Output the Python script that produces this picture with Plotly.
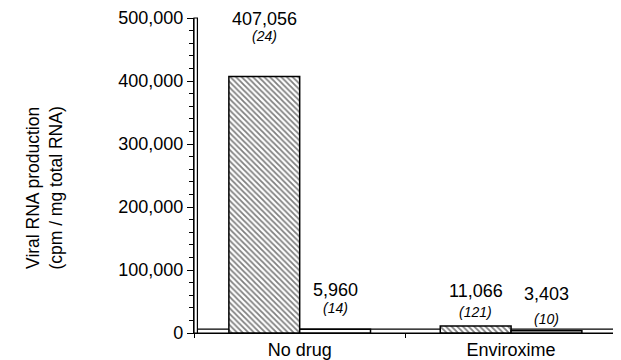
import plotly.graph_objects as go

categories = ["No drug", "Enviroxime"]
series_a = [407056, 11066]   # hatched bars
series_b = [5960, 3403]      # white bars
counts_a = ["(24)", "(121)"]
counts_b = ["(14)", "(10)"]
y_title = "Viral RNA production<br>(cpm / mg total RNA)"

FONT = "Liberation Sans, Arial, sans-serif"
BARGAP = 0.33
half = (1 - BARGAP) / 4.0

fig = go.Figure()
fig.add_trace(go.Bar(
    x=categories, y=series_a,
    marker=dict(color="white", line=dict(color="black", width=1.5),
                pattern=dict(shape="\\", fgcolor="black", bgcolor="white",
                             size=4, solidity=0.45)),
    showlegend=False, hoverinfo="skip"))
fig.add_trace(go.Bar(
    x=categories, y=series_b,
    marker=dict(color="white", line=dict(color="black", width=1.5)),
    showlegend=False, hoverinfo="skip"))

annotations = []
# (count label shift, value label shift) in pixels above bar top
label_shift = {(0, 0): (31, 46), (0, 1): (11, 27), (1, 0): (4, 23), (1, 1): (2, 25)}
for i in range(len(categories)):
    for s, (vals, cnts, off) in enumerate(((series_a, counts_a, -half),
                                           (series_b, counts_b, half))):
        csh, vsh = label_shift[(i, s)]
        annotations.append(dict(x=i + off, y=vals[i], xref="x", yref="y",
                                text="<i>%s</i>" % cnts[i], showarrow=False,
                                yanchor="bottom", yshift=csh,
                                font=dict(family=FONT, size=14, color="black")))
        annotations.append(dict(x=i + off, y=vals[i], xref="x", yref="y",
                                text=f"{vals[i]:,}", showarrow=False,
                                yanchor="bottom", yshift=vsh,
                                font=dict(family=FONT, size=18, color="black")))

annotations.append(dict(x=0, y=0.46, xref="paper", yref="paper", text=y_title,
                        showarrow=False, textangle=-90, xanchor="right",
                        xshift=-126, font=dict(family=FONT, size=17.5, color="black")))

shapes = [
    dict(type="rect", xref="paper", yref="y", x0=0, x1=1.02, y0=0, y1=6000,
         line=dict(color="black", width=1.2), fillcolor="white", layer="below"),
    dict(type="rect", xref="paper", yref="paper", x0=0, x1=0.008, y0=0, y1=1.0,
         line=dict(color="black", width=1.2), fillcolor="white", layer="below"),
]

fig.update_layout(
    width=613, height=352,
    margin=dict(l=186, r=0, t=8, b=20),
    paper_bgcolor="white", plot_bgcolor="white",
    barmode="group", bargap=BARGAP, bargroupgap=0,
    font=dict(family=FONT, size=18, color="black"),
    annotations=annotations, shapes=shapes,
    xaxis=dict(range=[-0.5, 1.52], showline=True, linecolor="black", linewidth=1.2,
               ticks="outside", tickson="boundaries", ticklen=4, tickcolor="black",
               showgrid=False, zeroline=False,
               tickfont=dict(family=FONT, size=18, color="black")),
    yaxis=dict(range=[0, 500000], dtick=100000, tickformat=",",
               showline=True, linecolor="black", linewidth=1.2,
               ticks="outside", ticklen=6, tickcolor="black",
               ticklabeloverflow="allow",
               minor=dict(dtick=20000, ticks="outside", ticklen=4, tickcolor="black"),
               showgrid=False, zeroline=False,
               tickfont=dict(family=FONT, size=18, color="black")),
)

fig.write_html("out.html")
